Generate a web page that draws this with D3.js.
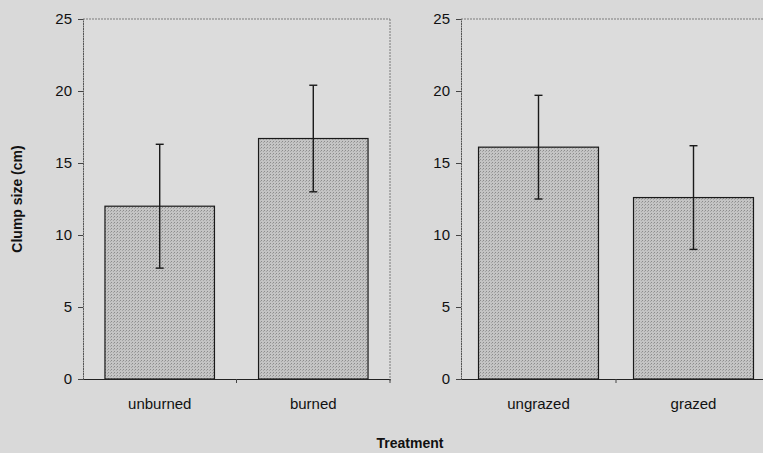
<!DOCTYPE html>
<html>
<head>
<meta charset="utf-8">
<script src="https://cdn.jsdelivr.net/npm/d3@7"></script>
<style>
  html, body { margin: 0; padding: 0; background: #d9d9d9; }
  svg { display: block; }
  text { font-family: "Liberation Sans", Arial, sans-serif; fill: #111; }
</style>
</head>
<body>
<svg id="chart" width="763" height="453"></svg>
<script>
// Data
const burnCategories = ["unburned", "burned"];
const burnMeans = [12.0, 16.7];
const burnErrors = [4.3, 3.7];

const grazeCategories = ["ungrazed", "grazed"];
const grazeMeans = [16.1, 12.6];
const grazeErrors = [3.6, 3.6];

const yTicks = [0, 5, 10, 15, 20, 25];
const yLabel = "Clump size (cm)";
const xLabel = "Treatment";

const svg = d3.select("#chart");

// pattern for stippled bars
const defs = svg.append("defs");
const pat = defs.append("pattern").attr("id", "stipple")
  .attr("width", 3).attr("height", 3).attr("patternUnits", "userSpaceOnUse");
pat.append("rect").attr("width", 3).attr("height", 3).attr("fill", "#c4c4c4");
pat.append("rect").attr("x", 0).attr("y", 0).attr("width", 1).attr("height", 1).attr("fill", "#8c8c8c");
pat.append("rect").attr("x", 2).attr("y", 1).attr("width", 1).attr("height", 1).attr("fill", "#a4a4a4");

const y = d3.scaleLinear().domain([0, 25]).range([379, 19]);
const FS = 15;

function panel(cats, means, errs, x0, x1, padInner, padOuter) {
  const g = svg.append("g");
  const band = d3.scaleBand().domain(cats).range([x0, x1]);
  const bx = d3.scaleBand().domain(cats).range([x0, x1]).paddingInner(padInner).paddingOuter(padOuter);

  g.append("rect").attr("x", x0).attr("y", y(25)).attr("width", x1 - x0).attr("height", y(0) - y(25))
    .attr("fill", "#dcdcdc");
  g.append("line").attr("x1", x0).attr("x2", x1).attr("y1", y(25)).attr("y2", y(25))
    .attr("stroke", "#7a7a7a").attr("stroke-width", 1).attr("stroke-dasharray", "2,1");
  g.append("line").attr("x1", x1).attr("x2", x1).attr("y1", y(25)).attr("y2", y(0) + 3)
    .attr("stroke", "#7a7a7a").attr("stroke-width", 1).attr("stroke-dasharray", "2,1");

  g.selectAll("rect.bar").data(cats).enter().append("rect").attr("class", "bar")
    .attr("x", d => bx(d)).attr("width", bx.bandwidth())
    .attr("y", (d, i) => y(means[i])).attr("height", (d, i) => y(0) - y(means[i]))
    .attr("fill", "url(#stipple)").attr("stroke", "#1a1a1a").attr("stroke-width", 1.2);

  cats.forEach((c, i) => {
    const cx = bx(c) + bx.bandwidth() / 2;
    const lo = y(means[i] - errs[i]), hi = y(means[i] + errs[i]);
    g.append("line").attr("x1", cx).attr("x2", cx).attr("y1", lo).attr("y2", hi)
      .attr("stroke", "#1a1a1a").attr("stroke-width", 1.4);
    [lo, hi].forEach(v => g.append("line").attr("x1", cx - 4).attr("x2", cx + 4).attr("y1", v).attr("y2", v)
      .attr("stroke", "#1a1a1a").attr("stroke-width", 1.4));
  });

  const ya = g.append("g").attr("transform", `translate(${x0},0)`)
    .call(d3.axisLeft(y).tickValues(yTicks).tickSize(5).tickPadding(6).tickFormat(d3.format("d")));
  ya.select(".domain").attr("stroke", "#555").attr("stroke-dasharray", "2,0.5");
  ya.selectAll(".tick line").attr("stroke", "#444");
  ya.selectAll(".tick text").attr("font-size", FS).attr("fill", "#111")
    .attr("font-family", "'Liberation Sans', Arial, sans-serif");

  const xa = g.append("g").attr("transform", `translate(0,${y(0)})`)
    .call(d3.axisBottom(band).tickSize(0).tickPadding(19));
  xa.select(".domain").attr("stroke", "#222").attr("stroke-width", 1.2);
  xa.selectAll(".tick text").attr("font-size", FS).attr("fill", "#111")
    .attr("font-family", "'Liberation Sans', Arial, sans-serif");
  const edges = cats.map(c => band(c)).concat([x1]).slice(1);
  edges.forEach(e => g.append("line").attr("x1", e).attr("x2", e).attr("y1", y(0)).attr("y2", y(0) + 4)
    .attr("stroke", "#444"));
}

panel(burnCategories, burnMeans, burnErrors, 83, 390, 0.287, 0.143);
panel(grazeCategories, grazeMeans, grazeErrors, 461, 771, 0.226, 0.113);

svg.append("text").attr("transform", `translate(18,${(y(0) + y(25)) / 2}) rotate(-90)`)
  .attr("text-anchor", "middle").attr("dominant-baseline", "middle")
  .attr("font-size", 14).attr("font-weight", "bold").text(yLabel);

svg.append("text").attr("x", 410).attr("y", 448)
  .attr("text-anchor", "middle").attr("font-size", 14).attr("font-weight", "bold").text(xLabel);
</script>
</body>
</html>
